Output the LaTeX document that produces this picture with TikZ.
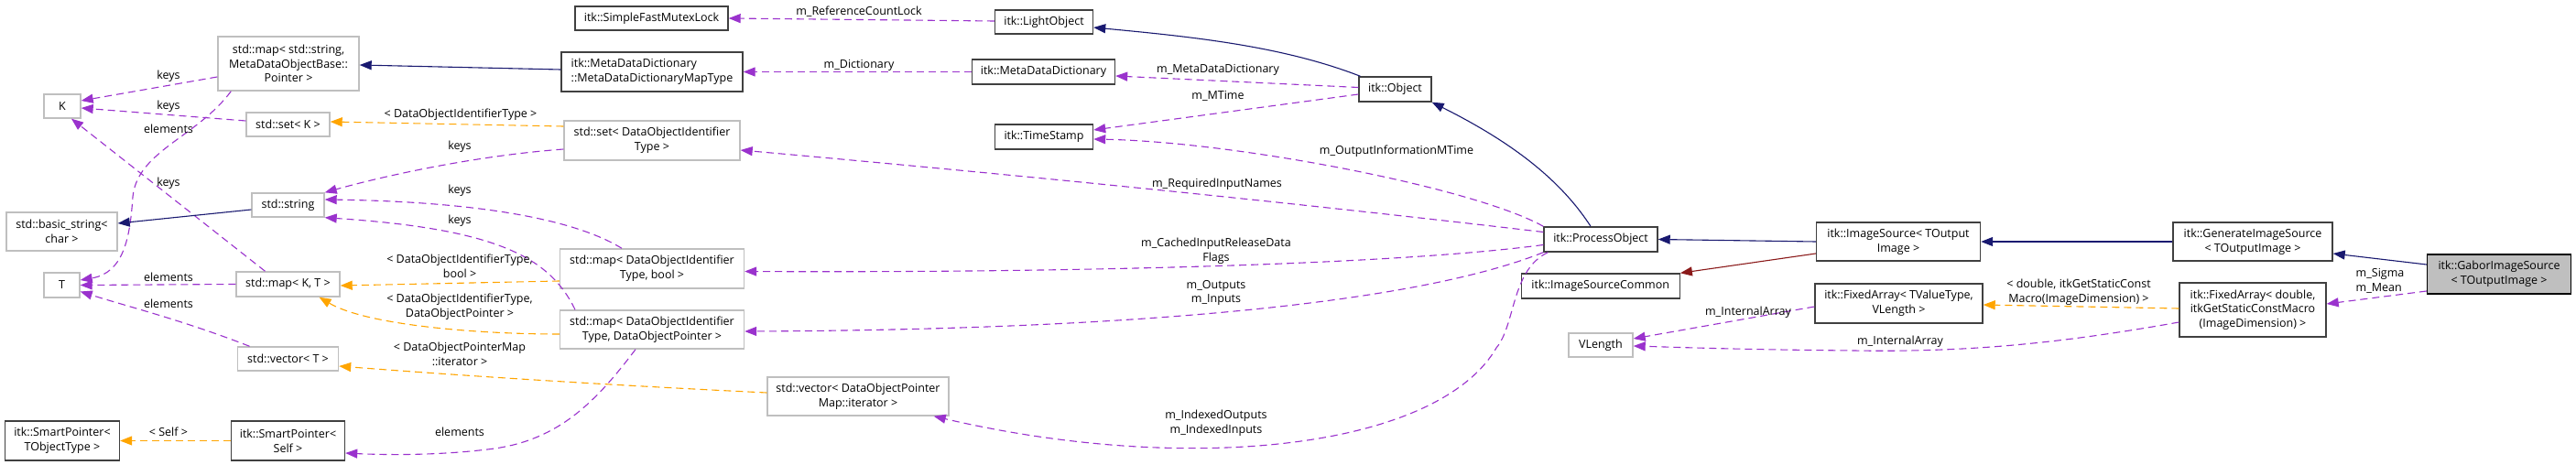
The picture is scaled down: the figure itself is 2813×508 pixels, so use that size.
\documentclass[tikz,border=0pt]{standalone}
\usepackage{fontspec}
\setmainfont{Open Sans}
\usetikzlibrary{arrows.meta}
\definecolor{inh}{HTML}{191970}
\definecolor{usecol}{HTML}{9A32CD}
\definecolor{tmpl}{HTML}{FFA500}
\definecolor{prot}{HTML}{8B1A1A}
\definecolor{grayb}{HTML}{BFBFBF}
\definecolor{darkb}{HTML}{404040}
\tikzset{
  box/.style={draw=darkb, line width=1.4pt, fill=white, align=center, inner sep=0pt,
    font=\fontsize{12.5}{15.7}\selectfont},
  gbox/.style={box, draw=grayb},
  lbl/.style={align=center, inner sep=0pt, font=\fontsize{12.5}{15.7}\selectfont},
  tip/.style={-{Triangle[length=13pt,width=10pt]}},
  inhe/.style={draw=inh, line width=1.1pt, tip, inh},
  usee/.style={draw=usecol, line width=1.1pt, dash pattern=on 8pt off 5pt, tip, usecol},
  tple/.style={draw=tmpl, line width=1.1pt, dash pattern=on 8pt off 5pt, tip, tmpl},
  prote/.style={draw=prot, line width=1.1pt, tip, prot},
}
\begin{document}
\begin{tikzpicture}[x=1pt,y=-1pt]
\useasboundingbox[fill=white] (0,0) rectangle (2813,508);
% nodes
\node[gbox, minimum width=40pt, minimum height=26pt] (K) at (68,116) {K};
\node[gbox, minimum width=154pt, minimum height=59pt] (mapstr) at (315,69.5) {std::map< std::string,\\ MetaDataObjectBase::\\Pointer >};
\node[gbox, minimum width=91pt, minimum height=26pt] (setK) at (314.5,136) {std::set< K >};
\node[gbox, minimum width=79pt, minimum height=26pt] (string) at (314.5,224) {std::string};
\node[gbox, minimum width=121pt, minimum height=42pt] (bstr) at (67.5,253) {std::basic\_string<\\char >};
\node[gbox, minimum width=39pt, minimum height=27pt] (T) at (67.5,311.5) {T};
\node[gbox, minimum width=113pt, minimum height=27pt] (mapKT) at (314.5,310.5) {std::map< K, T >};
\node[gbox, minimum width=110pt, minimum height=26pt] (vecT) at (314.5,392) {std::vector< T >};
\node[box, minimum width=125pt, minimum height=43pt] (spT) at (68,481.5) {itk::SmartPointer<\\TObjectType >};
\node[box, minimum width=124pt, minimum height=43pt] (spS) at (314.5,481.5) {itk::SmartPointer<\\Self >};
\node[box, minimum width=167pt, minimum height=26pt] (mutex) at (711.5,20) {itk::SimpleFastMutexLock};
\node[box, minimum width=198pt, minimum height=43pt] (maptype) at (712,78.5) {\begin{tabular}{@{}l@{}}itk::MetaDataDictionary\\::MetaDataDictionaryMapType\end{tabular}};
\node[gbox, minimum width=192pt, minimum height=43pt] (setD) at (712,153.5) {std::set< DataObjectIdentifier\\Type >};
\node[gbox, minimum width=201pt, minimum height=43pt] (mapB) at (712,293.5) {std::map< DataObjectIdentifier\\Type, bool >};
\node[gbox, minimum width=201pt, minimum height=42pt] (mapP) at (712,360) {std::map< DataObjectIdentifier\\Type, DataObjectPointer >};
\node[gbox, minimum width=198pt, minimum height=42pt] (vecI) at (937,433) {std::vector< DataObjectPointer\\Map::iterator >};
\node[box, minimum width=107pt, minimum height=26pt] (light) at (1140,24) {itk::LightObject};
\node[box, minimum width=156pt, minimum height=27pt] (mdd) at (1139.5,78.5) {itk::MetaDataDictionary};
\node[box, minimum width=79pt, minimum height=27pt] (obj) at (1523.5,97.5) {itk::Object};
\node[box, minimum width=107pt, minimum height=27pt] (ts) at (1140,149.5) {itk::TimeStamp};
\node[box, minimum width=124pt, minimum height=27pt] (po) at (1748,261.5) {itk::ProcessObject};
\node[box, minimum width=173pt, minimum height=27pt] (isc) at (1747.7,312.5) {itk::ImageSourceCommon};
\node[box, minimum width=179pt, minimum height=42pt] (is) at (2073,264) {itk::ImageSource< TOutput\\Image >};
\node[box, minimum width=183pt, minimum height=43pt] (fatv) at (2073.5,331.5) {itk::FixedArray< TValueType,\\VLength >};
\node[gbox, minimum width=70pt, minimum height=26pt] (vl) at (1748,377) {VLength};
\node[box, minimum width=174pt, minimum height=42pt] (gis) at (2460,264) {itk::GenerateImageSource\\< TOutputImage >};
\node[box, minimum width=160pt, minimum height=59pt] (fad) at (2460,338.5) {itk::FixedArray< double,\\ itkGetStaticConstMacro\\(ImageDimension) >};
\node[box, draw=black, fill=grayb, minimum width=157pt, minimum height=43pt] (gabor) at (2729,299.5) {itk::GaborImageSource\\< TOutputImage >};
% edges
\draw[inhe] ([yshift=2.5pt]maptype.west) -- ([yshift=-1.5pt]mapstr.east);
\draw[usee] ([yshift=-14.5pt]mapstr.west) -- ([yshift=6pt]K.east);
\draw[usee] ([yshift=4pt]setK.west) -- ([yshift=-2pt]K.east);
\draw[usee] ([xshift=15pt]mapstr.south west) .. controls (215,150) and (150,165) .. (145,215) .. controls (142,260) and (135,298) .. ([yshift=5.5pt]T.east);
\draw[usee] ([xshift=-25pt]mapKT.north) -- ([xshift=10pt]K.south);
\draw[inhe] ([yshift=-5pt]string.west) -- ([yshift=9pt]bstr.east);
\draw[usee] (mapKT.west) -- (T.east);
\draw[usee] ([xshift=-42pt]vecT.north) .. controls (200,350) and (140,335) .. ([yshift=-7pt]T.east);
\draw[tple] ([yshift=15.5pt]setD.west) -- ([yshift=3pt]setK.east);
\draw[usee] ([yshift=-9.5pt]setD.west) .. controls (520,170) and (420,192) .. (string.north east);
\draw[usee] ([xshift=-33pt]mapB.north) .. controls (620,235) and (500,220) .. ([yshift=6pt]string.east);
\draw[usee] ([xshift=-84pt]mapP.north) .. controls (600,280) and (540,250) .. (string.south east);
\draw[tple] ([yshift=-13.5pt]mapB.west) -- ([yshift=-1.5pt]mapKT.east);
\draw[tple] ([yshift=-5pt]mapP.west) .. controls (520,365) and (400,355) .. ([xshift=34pt]mapKT.south);
\draw[tple] ([yshift=4pt]vecI.west) .. controls (650,420) and (500,410) .. ([yshift=-8pt]vecT.east);
\draw[tple] (spS.west) -- (spT.east);
\draw[usee] ([xshift=-18pt]mapP.south) .. controls (650,440) and (610,480) .. (540,490) .. controls (480,498) and (420,497) .. ([yshift=-13.5pt]spS.east);
\draw[usee] ([yshift=1pt]light.west) -- (mutex.east);
\draw[usee] (mdd.west) -- (maptype.east);
\draw[inhe] ([xshift=-38pt]obj.north) .. controls (1400,50) and (1300,40) .. ([yshift=-6pt]light.east);
\draw[usee] ([yshift=2pt]obj.west) -- ([yshift=-4.5pt]mdd.east);
\draw[usee] ([yshift=-5.5pt]obj.west) -- ([yshift=7.5pt]ts.east);
\draw[inhe] ([xshift=-11pt]po.north) .. controls (1700,190) and (1640,150) .. (obj.south east);
\draw[usee] (po.north west) .. controls (1610,205) and (1350,155) .. ([yshift=-2.5pt]ts.east);
\draw[usee] ([yshift=8pt]po.west) .. controls (1400,220) and (1100,190) .. ([yshift=-10.5pt]setD.east);
\draw[usee] ([yshift=-6pt]po.west) .. controls (1500,292) and (1100,298) .. ([yshift=-3pt]mapB.east);
\draw[usee] (po.south west) .. controls (1550,330) and (1250,360) .. ([yshift=-2pt]mapP.east);
\draw[usee] ([xshift=5pt]po.south west) .. controls (1650,295) and (1655,355) .. (1634,380) .. controls (1570,490) and (1300,520) .. ([xshift=-17pt]vecI.south east);
\draw[inhe] (is.west) -- (po.east);
\draw[prote] ([yshift=-13pt]is.west) -- (isc.north east);
\draw[inhe] (gis.west) -- (is.east);
\draw[inhe] ([yshift=10.5pt]gabor.west) -- ([yshift=-13pt]gis.east);
\draw[usee] ([yshift=-18.5pt]gabor.west) -- ([yshift=6.5pt]fad.east);
\draw[tple] ([yshift=1.5pt]fad.west) -- ([yshift=-1.5pt]fatv.east);
\draw[usee] ([yshift=-3.5pt]fatv.west) -- ([yshift=7pt]vl.east);
\draw[usee] ([yshift=-13.5pt]fad.west) .. controls (2250,375) and (2150,385) .. (2024,383) .. controls (1900,382) and (1820,379) .. ([yshift=-1pt]vl.east);
% edge labels
\node[lbl] (l1) at (184,83) {keys};
\node[lbl] (l2) at (184,116) {keys};
\node[lbl] (l3) at (184,141) {elements};
\node[lbl] (l4) at (184,200) {keys};
\node[lbl] (l5) at (184,303) {elements};
\node[lbl] (l6) at (184,332) {elements};
\node[lbl] (l7) at (184,472) {< Self >};
\node[lbl] (l8) at (503,125) {< DataObjectIdentifierType >};
\node[lbl] (l9) at (502,160) {keys};
\node[lbl] (l10) at (502,208) {keys};
\node[lbl] (l11) at (502,241) {keys};
\node[lbl] (l12) at (502,291) {< DataObjectIdentifierType,\\bool >};
\node[lbl] (l13) at (502,335) {< DataObjectIdentifierType,\\DataObjectPointer >};
\node[lbl] (l14) at (502,387) {< DataObjectPointerMap\\::iterator >};
\node[lbl] (l15) at (502,472) {elements};
\node[lbl] (l16) at (938,13) {m\_ReferenceCountLock};
\node[lbl] (l17) at (938,71) {m\_Dictionary};
\node[lbl] (l18) at (1330,76) {m\_MetaDataDictionary};
\node[lbl] (l19) at (1330,105) {m\_MTime};
\node[lbl] (l20) at (1525,165) {m\_OutputInformationMTime};
\node[lbl] (l21) at (1329,201) {m\_RequiredInputNames};
\node[lbl] (l22) at (1328,274) {m\_CachedInputReleaseData\\Flags};
\node[lbl] (l23) at (1328,320) {m\_Outputs\\m\_Inputs};
\node[lbl] (l24) at (1328,462) {m\_IndexedOutputs\\m\_IndexedInputs};
\node[lbl] (l25) at (1909,341) {m\_InternalArray};
\node[lbl] (l26) at (2075,373) {m\_InternalArray};
\node[lbl] (l27) at (2270,319) {< double, itkGetStaticConst\\Macro(ImageDimension) >};
\node[lbl, align=left] (l28) at (2599,307) {m\_Sigma\\m\_Mean};
\end{tikzpicture}
\end{document}
